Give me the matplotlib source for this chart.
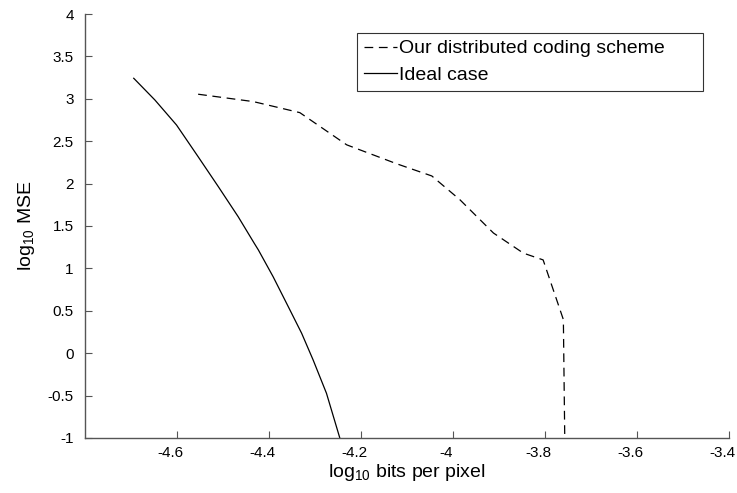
import matplotlib
matplotlib.use('Agg')
import matplotlib.pyplot as plt
import matplotlib.transforms as mtransforms

plt.rcParams['font.family'] = ['Liberation Sans', 'DejaVu Sans']
plt.rcParams['mathtext.fontset'] = 'custom'
plt.rcParams['mathtext.rm'] = 'Liberation Sans'

# Ideal case (solid)
ideal_x = [-4.694, -4.648, -4.601, -4.554, -4.510, -4.467, -4.432, -4.423,
           -4.391, -4.358, -4.329, -4.304, -4.275, -4.246]
ideal_y = [3.242, 2.986, 2.691, 2.317, 1.963, 1.610, 1.296, 1.217,
           0.902, 0.548, 0.235, -0.080, -0.473, -1.0]

# Our distributed coding scheme (dashed)
ours_x = [-4.554, -4.434, -4.333, -4.231, -4.122, -4.046, -3.985, -3.912,
          -3.847, -3.804, -3.760, -3.757]
ours_y = [3.054, 2.967, 2.837, 2.457, 2.233, 2.09, 1.81, 1.417,
          1.18, 1.10, 0.396, -1.0]

xticks = [-4.6, -4.4, -4.2, -4.0, -3.8, -3.6, -3.4]
xtick_labels = ['-4.6', '-4.4', '-4.2', '-4', '-3.8', '-3.6', '-3.4']
yticks = [-1, -0.5, 0, 0.5, 1, 1.5, 2, 2.5, 3, 3.5, 4]
ytick_labels = ['-1', '-0.5', '0', '0.5', '1', '1.5', '2', '2.5', '3', '3.5', '4']

fig = plt.figure(figsize=(7.37, 4.93), dpi=100)
ax = fig.add_axes([0.1153, 0.1116, 0.8738, 0.8600])

ax.plot(ours_x, ours_y, color='black', linestyle=(0, (7, 4.5)), linewidth=0.9,
        label='Our distributed coding scheme')
ax.plot(ideal_x, ideal_y, color='black', linestyle='-', linewidth=0.9,
        label='Ideal case')

ax.set_xlim(-4.8, -3.4)
ax.set_ylim(-1, 4)
ax.set_xticks(xticks)
ax.set_xticklabels(xtick_labels)
ax.set_yticks(yticks)
ax.set_yticklabels(ytick_labels)

for s in ['top', 'right']:
    ax.spines[s].set_visible(False)
for s in ['left', 'bottom']:
    ax.spines[s].set_color('#555555')
    ax.spines[s].set_linewidth(1.0)
ax.tick_params(direction='in', length=5, width=0.8, color='#555555',
               labelsize=11)
ax.tick_params(axis='x', pad=6)
ax.tick_params(axis='y', pad=8)

# x tick labels sit a little left of their ticks in the original
shift = mtransforms.ScaledTranslation(-0.07, 0, fig.dpi_scale_trans)
for lbl in ax.get_xticklabels():
    lbl.set_transform(lbl.get_transform() + shift)

ax.set_xlabel('log$_{10}$ bits per pixel', fontsize=14, labelpad=1)
ax.set_ylabel('log$_{10}$ MSE', fontsize=14, labelpad=8)

leg = ax.legend(loc='upper left', bbox_to_anchor=(0.4224, 0.955, 0.5372, 0.0),
                mode='expand', fontsize=14, frameon=True, fancybox=False,
                handlelength=1.7, handletextpad=0.12, borderpad=0.35,
                labelspacing=0.45, borderaxespad=0)
leg.get_frame().set_edgecolor('black')
leg.get_frame().set_linewidth(0.8)

fig.savefig('out.png', dpi=100)
